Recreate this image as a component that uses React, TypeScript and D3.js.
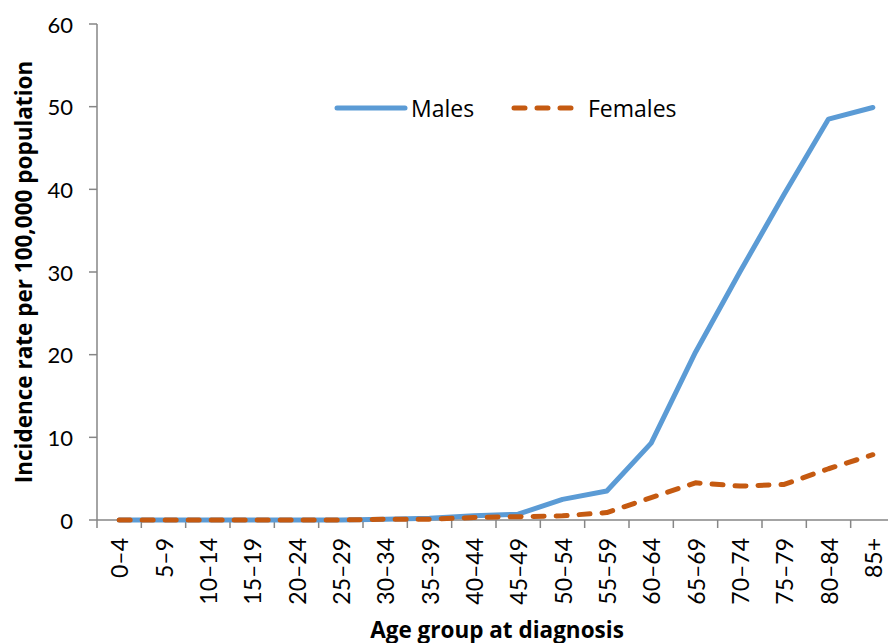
import { useEffect, useRef } from 'react';
import * as d3 from 'd3';

const ageGroups = [
  '0–4', '5–9', '10–14', '15–19', '20–24', '25–29', '30–34', '35–39', '40–44',
  '45–49', '50–54', '55–59', '60–64', '65–69', '70–74', '75–79', '80–84', '85+',
];
const males = [0, 0, 0, 0, 0, 0, 0.1, 0.2, 0.5, 0.7, 2.5, 3.5, 9.3, 20.3, 30.0, 39.4, 48.5, 49.9];
const females = [0, 0, 0, 0, 0, 0, 0.1, 0.1, 0.3, 0.4, 0.5, 0.9, 2.7, 4.5, 4.1, 4.3, 6.2, 7.9];
const yTicks = [0, 10, 20, 30, 40, 50, 60];

const W = 888;
const H = 643;
const FONT = 'Lato, "Open Sans", sans-serif';
const TITLE_FONT = '"Open Sans", Lato, sans-serif';

export default function App() {
  const svgRef = useRef<SVGSVGElement>(null);

  useEffect(() => {
    if (!svgRef.current) return;
    const svg = d3.select(svgRef.current);
    svg.selectAll('*').remove();

    const left = 97;
    const right = 895;
    const top = 24;
    const bottom = 520;

    const x = d3.scaleBand<string>().domain(ageGroups).range([left, right]);
    const y = d3.scaleLinear().domain([0, 60]).range([bottom, top]);
    const axisColor = '#868686';

    // y axis
    svg.append('line')
      .attr('x1', left).attr('x2', left)
      .attr('y1', top).attr('y2', bottom)
      .attr('stroke', axisColor).attr('stroke-width', 1.5);
    yTicks.forEach((t) => {
      svg.append('line')
        .attr('x1', left - 8).attr('x2', left)
        .attr('y1', y(t)).attr('y2', y(t))
        .attr('stroke', axisColor).attr('stroke-width', 1.5);
      svg.append('text')
        .attr('x', 73)
        .attr('y', y(t))
        .attr('text-anchor', 'end')
        .attr('dominant-baseline', 'central')
        .attr('font-family', FONT)
        .attr('font-size', 22)
        .attr('fill', '#000')
        .text(t);
    });

    // x axis
    svg.append('line')
      .attr('x1', left).attr('x2', right)
      .attr('y1', bottom).attr('y2', bottom)
      .attr('stroke', axisColor).attr('stroke-width', 1.5);
    ageGroups.forEach((g, i) => {
      const x0 = x(g)!;
      if (i > 0) {
        svg.append('line')
          .attr('x1', x0).attr('x2', x0)
          .attr('y1', bottom).attr('y2', bottom + 8)
          .attr('stroke', axisColor).attr('stroke-width', 1.5);
      }
      const cx = x0 + x.bandwidth() / 2;
      svg.append('text')
        .attr('transform', `translate(${cx}, ${bottom + 18}) rotate(-90)`)
        .attr('text-anchor', 'end')
        .attr('dominant-baseline', 'central')
        .attr('font-family', FONT)
        .attr('font-size', 23)
        .attr('fill', '#000')
        .text(g);
    });
    svg.append('line')
      .attr('x1', left).attr('x2', left)
      .attr('y1', bottom).attr('y2', bottom + 8)
      .attr('stroke', axisColor).attr('stroke-width', 1.5);

    const line = d3.line<number>()
      .x((_, i) => x(ageGroups[i])! + x.bandwidth() / 2)
      .y((d) => y(d));

    svg.append('path')
      .attr('d', line(males)!)
      .attr('fill', 'none')
      .attr('stroke', '#5B9BD5')
      .attr('stroke-width', 5)
      .attr('stroke-linejoin', 'round')
      .attr('stroke-linecap', 'round');

    svg.append('path')
      .attr('d', line(females)!)
      .attr('fill', 'none')
      .attr('stroke', '#C55A11')
      .attr('stroke-width', 5)
      .attr('stroke-linejoin', 'round')
      .attr('stroke-linecap', 'round')
      .attr('stroke-dasharray', '11,12');

    // legend
    const ly = 108;
    svg.append('line')
      .attr('x1', 337).attr('x2', 405)
      .attr('y1', ly).attr('y2', ly)
      .attr('stroke', '#5B9BD5').attr('stroke-width', 5)
      .attr('stroke-linecap', 'round');
    svg.append('text')
      .attr('x', 411).attr('y', ly)
      .attr('dominant-baseline', 'central')
      .attr('font-family', TITLE_FONT).attr('font-size', 23)
      .text('Males');
    svg.append('line')
      .attr('x1', 514).attr('x2', 574)
      .attr('y1', ly).attr('y2', ly)
      .attr('stroke', '#C55A11').attr('stroke-width', 5)
      .attr('stroke-linecap', 'round')
      .attr('stroke-dasharray', '11,12');
    svg.append('text')
      .attr('x', 588).attr('y', ly)
      .attr('dominant-baseline', 'central')
      .attr('font-family', TITLE_FONT).attr('font-size', 23)
      .text('Females');

    // axis titles
    svg.append('text')
      .attr('transform', `translate(23, ${(top + bottom) / 2}) rotate(-90)`)
      .attr('text-anchor', 'middle')
      .attr('dominant-baseline', 'central')
      .attr('font-family', TITLE_FONT).attr('font-size', 22.5).attr('font-weight', 'bold')
      .text('Incidence rate per 100,000 population');
    svg.append('text')
      .attr('x', 497).attr('y', 629)
      .attr('text-anchor', 'middle')
      .attr('dominant-baseline', 'central')
      .attr('font-family', TITLE_FONT).attr('font-size', 22.5).attr('font-weight', 'bold')
      .text('Age group at diagnosis');
  }, []);

  return (
    <div style={{ position: 'fixed', left: 0, top: 0, background: '#fff' }}>
      <svg ref={svgRef} width={W} height={H} style={{ display: 'block' }} />
    </div>
  );
}
